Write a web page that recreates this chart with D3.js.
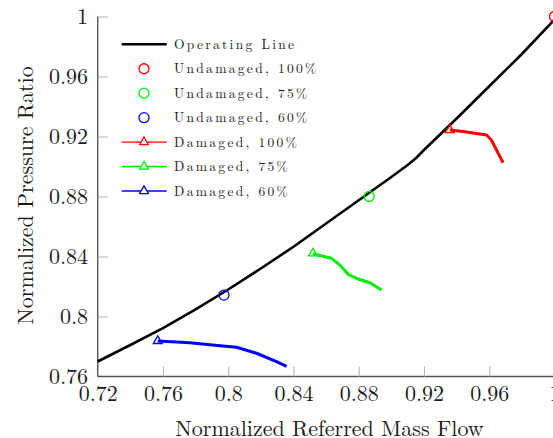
<!DOCTYPE html>
<html>
<head>
<meta charset="utf-8">
<script src="https://cdn.jsdelivr.net/npm/d3@7"></script>
<style>
  html, body { margin: 0; padding: 0; background: #fff; }
  svg { display: block; }
  text { font-family: "Latin Modern Roman", "DejaVu Serif", serif; fill: #1a1a1a; }
</style>
</head>
<body>
<svg id="chart" width="553" height="438"></svg>
<script>
// Compressor map: operating line with undamaged and damaged speed points
const xTicks = [0.72, 0.76, 0.80, 0.84, 0.88, 0.92, 0.96, 1.00];
const xTickLabels = ["0.72", "0.76", "0.8", "0.84", "0.88", "0.92", "0.96", "1"];
const yTicks = [0.76, 0.80, 0.84, 0.88, 0.92, 0.96, 1.00];
const yTickLabels = ["0.76", "0.8", "0.84", "0.88", "0.92", "0.96", "1"];

const opFlow  = [0.72, 0.74, 0.76, 0.78, 0.80, 0.82, 0.84, 0.86, 0.88, 0.90, 0.91, 0.915, 0.92, 0.94, 0.96, 0.98, 1.00];
const opRatio = [0.770, 0.781, 0.7922, 0.8048, 0.818, 0.832, 0.8465, 0.862, 0.8775, 0.893, 0.901, 0.9055, 0.911, 0.932, 0.9535, 0.975, 0.998];

const undamagedFlow  = [1.000, 0.8864, 0.7974];
const undamagedRatio = [1.000, 0.8800, 0.8143];

const dmg100Flow  = [0.9358, 0.9450, 0.9583, 0.9613, 0.9685];
const dmg100Ratio = [0.9243, 0.9232, 0.9210, 0.9177, 0.9025];
const dmg75Flow   = [0.8520, 0.8531, 0.8633, 0.8684, 0.8735, 0.8796, 0.8868, 0.8940];
const dmg75Ratio  = [0.8421, 0.8415, 0.8388, 0.8343, 0.8281, 0.8250, 0.8225, 0.8177];
const dmg60Flow   = [0.7568, 0.7765, 0.7950, 0.8051, 0.8174, 0.8296, 0.8358];
const dmg60Ratio  = [0.7837, 0.7825, 0.7805, 0.7795, 0.7755, 0.7699, 0.7668];

const seriesColors = ["#ff0000", "#00ee00", "#0000ff"];
const legendLabels = ["Operating Line", "Undamaged, 100%", "Undamaged, 75%", "Undamaged, 60%",
                      "Damaged, 100%", "Damaged, 75%", "Damaged, 60%"];

const svg = d3.select("#chart");
const x = d3.scaleLinear().domain([0.72, 1.0]).range([97.7, 554.5]);
const y = d3.scaleLinear().domain([0.76, 1.0]).range([376.5, 16.5]);

// Stretch a text's letter spacing so it spans a given width
function spanTo(sel, width) {
  const node = sel.node();
  const n = node.getNumberOfChars();
  const w = node.getComputedTextLength();
  sel.attr("letter-spacing", ((width - w) / (n - 1)).toFixed(2));
}

// Axes with inward gray ticks
const xAxis = d3.axisBottom(x).tickValues(xTicks).tickSize(-10).tickPadding(8.8)
  .tickFormat((d, i) => xTickLabels[i]);
const yAxis = d3.axisLeft(y).tickValues(yTicks).tickSize(-10).tickPadding(9.7)
  .tickFormat((d, i) => yTickLabels[i]);

const gx = svg.append("g").attr("transform", `translate(0,${y(0.76)})`).call(xAxis);
const gy = svg.append("g").attr("transform", `translate(${x(0.72)},0)`).call(yAxis);
[gx, gy].forEach(g => {
  g.attr("font-family", null).attr("font-size", null);
  g.select(".domain").attr("stroke", "#555").attr("stroke-width", 1.4);
  g.selectAll(".tick line").attr("stroke", "#b8b8b8").attr("stroke-width", 1.1);
  g.selectAll(".tick text").attr("font-size", 22).attr("fill", "#1a1a1a");
});
gx.select(".domain").attr("d", `M${x(0.72)},0H${x(1.0)}`);
gy.select(".domain").attr("d", `M0,${y(1.0)}V${y(0.76)}`);
gx.selectAll(".tick line").filter(d => d === 0.72).remove();
gy.selectAll(".tick line").filter(d => d === 0.76).remove();

// Axis titles
svg.append("text").attr("x", 329.5).attr("y", 436.3).attr("text-anchor", "middle")
  .attr("font-size", 22).text("Normalized Referred Mass Flow");
svg.append("text").attr("transform", "translate(32.5,195.5) rotate(-90)")
  .attr("text-anchor", "middle").attr("font-size", 22).text("Normalized Pressure Ratio");

const line = d3.line().x(d => x(d[0])).y(d => y(d[1]));
const zip = (a, b) => a.map((v, i) => [v, b[i]]);

// Operating line
svg.append("path").datum(zip(opFlow, opRatio)).attr("d", line)
  .attr("fill", "none").attr("stroke", "#000").attr("stroke-width", 2.6)
  .attr("stroke-linejoin", "round");

// Damaged speed lines, marker at the first point
const tri = d3.symbol().type(d3.symbolTriangle).size(34);
[[dmg100Flow, dmg100Ratio], [dmg75Flow, dmg75Ratio], [dmg60Flow, dmg60Ratio]].forEach(([fx, fy], i) => {
  const pts = zip(fx, fy);
  svg.append("path").datum(pts).attr("d", line)
    .attr("fill", "none").attr("stroke", seriesColors[i]).attr("stroke-width", 3)
    .attr("stroke-linejoin", "round");
  svg.append("path").attr("d", tri)
    .attr("transform", `translate(${x(pts[0][0])},${y(pts[0][1])})`)
    .attr("fill", "none").attr("stroke", seriesColors[i]).attr("stroke-width", 1.3);
});

// Undamaged design points
svg.selectAll("circle.und").data(zip(undamagedFlow, undamagedRatio)).join("circle")
  .attr("class", "und")
  .attr("cx", d => x(d[0])).attr("cy", d => y(d[1])).attr("r", 5)
  .attr("fill", "none").attr("stroke", (d, i) => seriesColors[i]).attr("stroke-width", 1.3);

// Legend
const lg = svg.append("g");
const rowY = i => 44.3 + i * 24.45;
let spacing = null;
legendLabels.forEach((lab, i) => {
  const yy = rowY(i);
  if (i === 0) {
    lg.append("line").attr("x1", 121.7).attr("x2", 166.7).attr("y1", yy).attr("y2", yy)
      .attr("stroke", "#000").attr("stroke-width", 2.6);
  } else if (i <= 3) {
    lg.append("circle").attr("cx", 144).attr("cy", yy).attr("r", 5)
      .attr("fill", "none").attr("stroke", seriesColors[i - 1]).attr("stroke-width", 1.3);
  } else {
    lg.append("line").attr("x1", 121.7).attr("x2", 166.7).attr("y1", yy).attr("y2", yy)
      .attr("stroke", seriesColors[i - 4]).attr("stroke-width", 1.4);
    lg.append("path").attr("d", tri).attr("transform", `translate(144,${yy})`)
      .attr("fill", "#fff").attr("stroke", seriesColors[i - 4]).attr("stroke-width", 1.3);
  }
  const t = lg.append("text").attr("x", 174).attr("y", yy + 4.6)
    .attr("font-size", 13.5).text(lab);
  if (spacing === null) {
    spanTo(t, 120);
    spacing = t.attr("letter-spacing");
  } else {
    t.attr("letter-spacing", spacing);
  }
});
</script>
</body>
</html>
